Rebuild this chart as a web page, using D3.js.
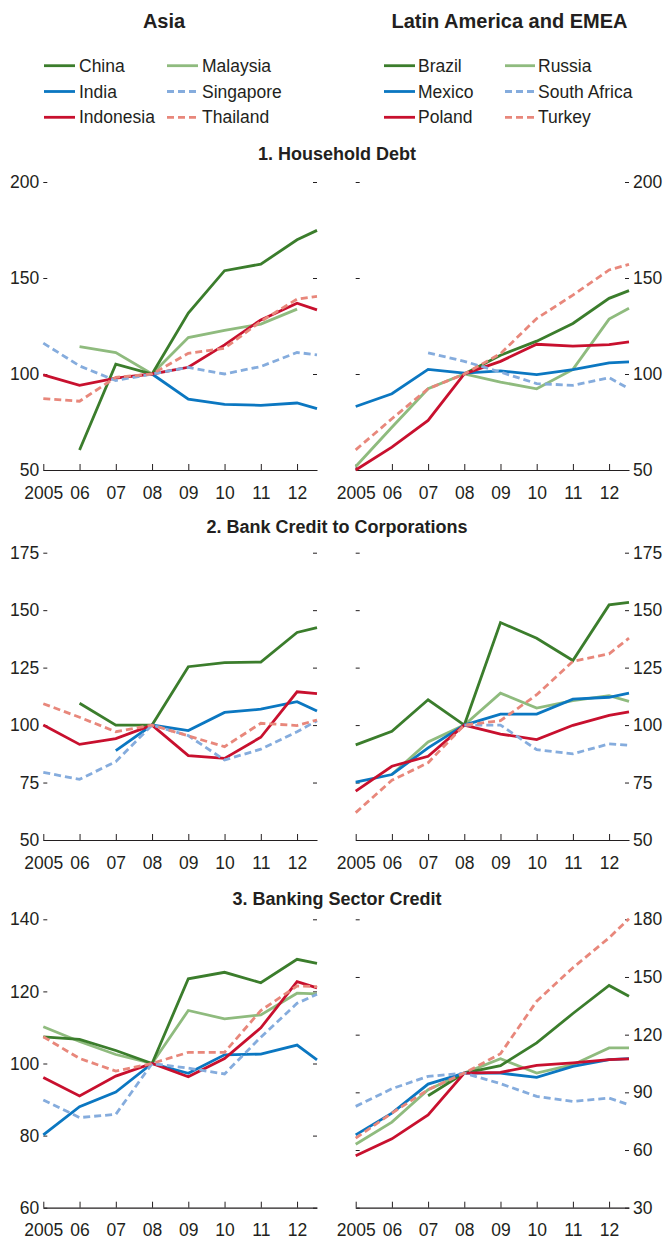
<!DOCTYPE html>
<html><head><meta charset="utf-8">
<script src="https://cdn.jsdelivr.net/npm/d3@7"></script>
<style>
html,body{margin:0;padding:0;background:#fff;}
svg{display:block;}
.t{font-family:"Liberation Sans",Arial,sans-serif;font-size:17.5px;fill:#231f20;}
.b{font-family:"Liberation Sans",Arial,sans-serif;font-weight:bold;fill:#231f20;}
</style></head><body>
<svg id="c" width="667" height="1241"></svg>
<script>
// Observation points: annual 2005-2012 plus the latest reading
const periods = [2005, 2006, 2007, 2008, 2009, 2010, 2011, 2012, 2012.55];
const yearTicks = [2005, 2006, 2007, 2008, 2009, 2010, 2011, 2012];
const yearLabels = ["2005", "06", "07", "08", "09", "10", "11", "12"];

const asiaNames = ["China", "India", "Indonesia", "Malaysia", "Singapore", "Thailand"];
const emeaNames = ["Brazil", "Mexico", "Poland", "Russia", "South Africa", "Turkey"];

// 1. Household Debt (2008 = 100)
const householdAsia = {
  China:     [null, 60.4, 105.1, 100, 131.7, 153.8, 157.2, 169.9, 174.8],
  India:     [null, null, null, 100, 86.9, 84.2, 83.7, 84.9, 82.0],
  Indonesia: [99.5, 94.1, 97.8, 100, 103.5, 115.2, 128.2, 136.9, 133.4],
  Malaysia:  [null, 114.3, 111.2, 100, 119.0, 122.7, 126.0, 133.8, null],
  Singapore: [116.1, 104.2, 96.6, 100, 103.4, 100.0, 103.9, 111.2, 110.0],
  Thailand:  [87.2, 85.8, 98.3, 100, 110.8, 113.4, 127.4, 139.0, 140.4]
};
const householdEmea = {
  Brazil:         [null, null, null, 100, 109.8, 117.1, 126.3, 139.4, 143.4],
  Mexico:         [83.1, 89.7, 102.4, 100.5, 101.6, 99.7, 102.3, 105.8, 106.3],
  Poland:         [50.0, 61.9, 75.8, 100, 106.6, 115.5, 114.5, 115.3, 116.7],
  Russia:         [51.8, 72.3, 92.3, 100, 95.8, 92.3, 102.4, 128.6, 134.2],
  "South Africa": [null, null, 111.0, 106.6, 101.0, 95.0, 94.1, 98.1, 92.3],
  Turkey:         [60.5, 76.7, 92.3, 100, 110.6, 128.9, 141.1, 154.2, 157.1]
};

// 2. Bank Credit to Corporations (2008 = 100)
const corporateAsia = {
  China:     [null, 109.5, 100, 100, 125.4, 127.2, 127.4, 140.3, 142.4],
  India:     [null, null, 88.9, 100, 97.6, 105.5, 106.9, 110.2, 106.1],
  Indonesia: [100, 91.6, 94.1, 100, 86.7, 85.5, 94.7, 114.5, 113.7],
  Malaysia:  [null, null, null, null, null, null, null, null, null],
  Singapore: [79.4, 76.4, 84.1, 100, 95.4, 84.8, 89.5, 97.1, 101.9],
  Thailand:  [109.3, 103.4, 97.1, 100, 95.3, 90.6, 100.8, 99.8, 102.2]
};
const corporateEmea = {
  Brazil:         [91.4, 97.3, 111.0, 100, 144.6, 137.8, 128.1, 152.3, 153.4],
  Mexico:         [75.2, 78.5, 90.1, 100, 104.8, 104.8, 111.3, 112.1, 113.9],
  Poland:         [71.3, 82.1, 86.4, 100, 96.1, 93.7, 99.9, 104.2, 105.7],
  Russia:         [null, 78.5, 92.7, 100, 113.9, 107.4, 110.6, 112.8, 110.3],
  "South Africa": [null, null, null, 100, 100, 89.3, 87.5, 91.8, 91.2],
  Turkey:         [61.9, 76.0, 83.6, 100, 101.9, 113.2, 127.7, 131.0, 137.8]
};

// 3. Banking Sector Credit (2008 = 100)
const bankingAsia = {
  China:     [107.4, 106.7, 103.6, 100, 123.5, 125.3, 122.4, 128.9, 127.8],
  India:     [80.2, 88.0, 92.1, 100, 97.3, 102.4, 102.6, 105.1, 101.0],
  Indonesia: [96.1, 91.0, 96.5, 100, 96.3, 101.4, 109.9, 122.7, 121.0],
  Malaysia:  [110.2, 106.1, 102.5, 100, 114.7, 112.4, 113.5, 119.5, 119.3],
  Singapore: [89.9, 85.0, 85.9, 100, 98.7, 97.1, 107.3, 116.7, 119.2],
  Thailand:  [107.4, 101.4, 97.9, 100, 103.1, 103.1, 114.7, 121.5, 121.3]
};
const bankingEmea = {
  Brazil:         [null, null, 88.2, 100, 103.9, 115.7, 131.0, 145.6, 140.0],
  Mexico:         [67.9, 79.2, 94.3, 100, 100, 97.8, 103.5, 107.0, 107.5],
  Poland:         [57.0, 65.8, 78.3, 100, 100.4, 104.0, 105.3, 107.0, 107.4],
  Russia:         [63.0, 74.5, 91.4, 100, 107.5, 100.0, 104.4, 113.1, 113.1],
  "South Africa": [82.7, 91.9, 98.3, 100, 94.5, 87.9, 85.3, 87.0, 83.5],
  Turkey:         [66.2, 79.2, 91.4, 100, 110.1, 137.4, 154.8, 170.4, 180.3]
};

// Styles by position in each legend
const colors = ["#3b7d2c", "#0b77c1", "#c8102e", "#8fbb7e", "#85acdd", "#e8877b"];
const dashed = [false, false, false, false, true, true];
const drawOrder = [3, 0, 1, 2, 4, 5];

const svg = d3.select("#c");
const ink = "#231f20";

// Column headings and legends
svg.append("text").attr("class", "b").attr("x", 164).attr("y", 28.3)
  .attr("text-anchor", "middle").style("font-size", "20px").text("Asia");
svg.append("text").attr("class", "b").attr("x", 509.5).attr("y", 28.3)
  .attr("text-anchor", "middle").style("font-size", "20px").text("Latin America and EMEA");

function legend(names, cols) {
  names.forEach((n, i) => {
    const c = cols[Math.floor(i / 3)];
    const y = 65.7 + (i % 3) * 25.8;
    svg.append("line").attr("x1", c[0]).attr("x2", c[1]).attr("y1", y).attr("y2", y)
      .attr("stroke", colors[i]).attr("stroke-width", 2.8)
      .attr("stroke-dasharray", dashed[i] ? "7,4" : null);
    svg.append("text").attr("class", "t").attr("x", c[2]).attr("y", y + 6).text(n);
  });
}
legend(asiaNames, [[44, 75, 79], [167, 198, 202]]);
legend(emeaNames, [[384, 415, 418], [505, 535, 538]]);

// Panel rows
const rows = [
  { title: "1. Household Debt", titleY: 160, top: 182, bottom: 470,
    left:  { domain: [50, 200], ticks: [50, 100, 150, 200], data: householdAsia, names: asiaNames },
    right: { domain: [50, 200], ticks: [50, 100, 150, 200], data: householdEmea, names: emeaNames } },
  { title: "2. Bank Credit to Corporations", titleY: 533, top: 552.7, bottom: 840,
    left:  { domain: [50, 175], ticks: [50, 75, 100, 125, 150, 175], data: corporateAsia, names: asiaNames },
    right: { domain: [50, 175], ticks: [50, 75, 100, 125, 150, 175], data: corporateEmea, names: emeaNames } },
  { title: "3. Banking Sector Credit", titleY: 905, top: 919.3, bottom: 1207.7,
    left:  { domain: [60, 140], ticks: [60, 80, 100, 120, 140], data: bankingAsia, names: asiaNames },
    right: { domain: [30, 180], ticks: [30, 60, 90, 120, 150, 180], data: bankingEmea, names: emeaNames } }
];

const panelX = { left: [43.3, 317], right: [355.7, 629] };

function styleAxis(g) {
  g.attr("font-family", null).attr("font-size", null);
  g.select(".domain").remove();
  g.selectAll("line").attr("stroke", ink).attr("stroke-width", 1);
  g.selectAll("text").attr("class", "t").attr("fill", ink);
}

rows.forEach(row => {
  svg.append("text").attr("class", "b").attr("x", 337).attr("y", row.titleY)
    .attr("text-anchor", "middle").style("font-size", "18px").text(row.title);

  ["left", "right"].forEach(side => {
    const p = row[side];
    const [x0, x1] = panelX[side];
    const x = d3.scaleLinear().domain([periods[0], periods[periods.length - 1]]).range([x0, x1]);
    const y = d3.scaleLinear().domain(p.domain).range([row.bottom, row.top]);

    // x axis: baseline with inward year ticks
    const xa = svg.append("g").attr("transform", `translate(0,${row.bottom})`)
      .call(d3.axisBottom(x).tickValues(yearTicks).tickSize(-6).tickSizeOuter(0)
        .tickFormat((d, i) => yearLabels[i]));
    xa.attr("font-family", null).attr("font-size", null);
    xa.select(".domain").attr("stroke", ink).attr("stroke-width", 1.2);
    xa.selectAll(".tick line").attr("stroke", ink).attr("stroke-width", 1);
    xa.selectAll("text").attr("class", "t").attr("fill", ink).attr("dy", null).attr("y", 28.5);

    // y ticks on both edges, labels on the outer edge
    const outerLeft = side === "left";
    const ya = svg.append("g").attr("transform", `translate(${x0},0)`)
      .call(d3.axisLeft(y).tickValues(p.ticks).tickSize(-4).tickPadding(4)
        .tickFormat(outerLeft ? d3.format("d") : () => ""));
    styleAxis(ya);
    const yb = svg.append("g").attr("transform", `translate(${x1},0)`)
      .call(d3.axisRight(y).tickValues(p.ticks).tickSize(-4).tickPadding(4)
        .tickFormat(outerLeft ? () => "" : d3.format("d")));
    styleAxis(yb);

    const line = d3.line()
      .defined(d => d.v != null)
      .x(d => x(d.t))
      .y(d => y(d.v));

    drawOrder.forEach(i => {
      const name = p.names[i];
      const vals = p.data[name];
      if (!vals) return;
      const pts = periods.map((t, k) => ({ t, v: vals[k] }));
      svg.append("path").datum(pts)
        .attr("d", line)
        .attr("fill", "none")
        .attr("stroke", colors[i])
        .attr("stroke-width", 2.8)
        .attr("stroke-linejoin", "miter")
        .attr("stroke-dasharray", dashed[i] ? "7,4" : null);
    });
  });
});
</script></body></html>
